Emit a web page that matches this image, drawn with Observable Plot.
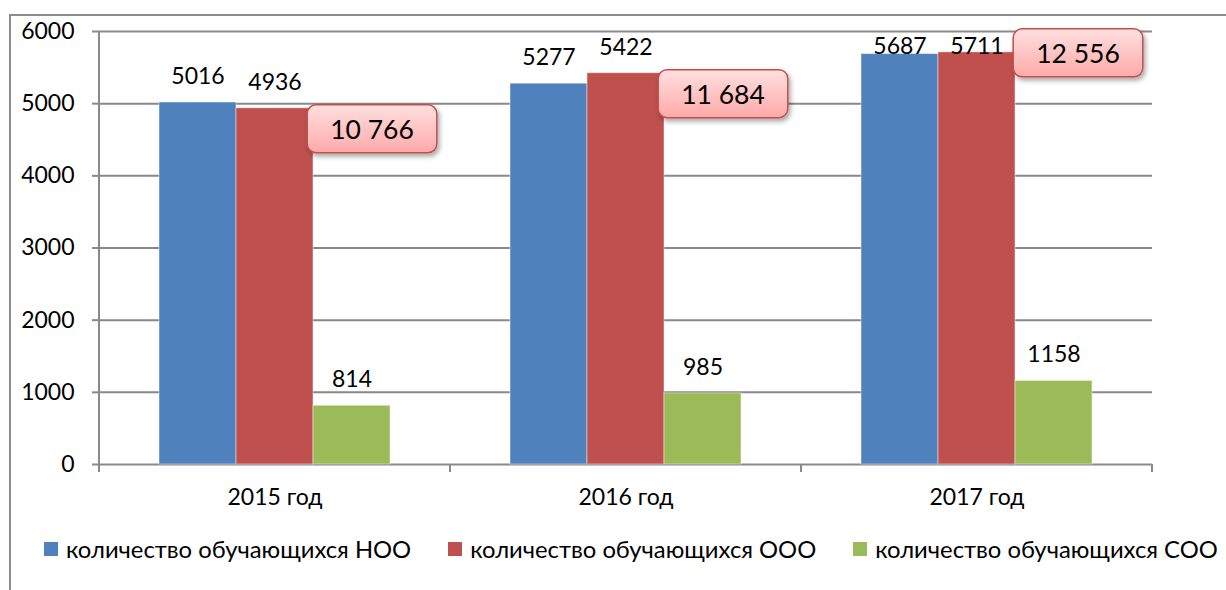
<!DOCTYPE html>
<html><head><meta charset="utf-8">
<script src="https://cdn.jsdelivr.net/npm/d3@7"></script>
<script src="https://cdn.jsdelivr.net/npm/@observablehq/plot@0.6"></script>
<style>
html,body{margin:0;padding:0;background:#fff;width:1226px;height:590px;overflow:hidden;font-family:Lato,"Open Sans",sans-serif;}
#frame{position:absolute;left:9px;top:14px;width:1300px;height:700px;border-left:2px solid #8c8c8c;border-top:2px solid #8c8c8c;}
#chart{position:absolute;left:0;top:0;}
#legend{position:absolute;left:44px;top:535px;display:flex;align-items:center;font-size:23.8px;color:#000;white-space:nowrap;}
#legend .item{display:flex;align-items:center;margin-right:37px;}
#legend .sw{width:14px;height:14px;margin-right:8px;}
</style></head>
<body>
<div id="frame"></div>
<div id="chart"></div>
<div id="legend"></div>
<script>
const years = ["2015 год", "2016 год", "2017 год"];
const series = ["количество обучающихся НОО", "количество обучающихся ООО", "количество обучающихся СОО"];
const noo = [5016, 5277, 5687];
const ooo = [4936, 5422, 5711];
const soo = [814, 985, 1158];
const totals = [10766, 11684, 12556];
const yTicks = [0, 1000, 2000, 3000, 4000, 5000, 6000];
const colors = ["#4f81bd", "#c0504d", "#9bbb59"];

const rows = [];
years.forEach((y, i) => {
  rows.push({year: y, series: series[0], value: noo[i]});
  rows.push({year: y, series: series[1], value: ooo[i]});
  rows.push({year: y, series: series[2], value: soo[i]});
});
const totRows = years.map((y, i) => ({year: y, ooo: ooo[i], total: totals[i], last: i === years.length - 1}));
const fmtTotal = n => String(n).replace(/\B(?=(\d{3})+$)/g, " ");

const chart = Plot.plot({
  width: 1226, height: 520,
  marginLeft: 98, marginRight: 73, marginTop: 31, marginBottom: 56,
  style: {fontFamily: "Lato, 'Open Sans', sans-serif", fontSize: "23px", color: "#000", background: "transparent", overflow: "visible"},
  fx: {domain: years, padding: 0, label: null},
  x: {domain: series, paddingInner: 0, paddingOuter: 0.755, axis: null},
  y: {domain: [0, 6000], label: null},
  color: {domain: series, range: colors},
  marks: [
    Plot.gridY({ticks: yTicks, stroke: "#898989", strokeOpacity: 1, strokeWidth: 2}),
    Plot.axisY({ticks: yTicks, tickFormat: d => String(d), tickSize: 7, tickPadding: 18, stroke: "#898989", strokeWidth: 2, fill: "#000", fontSize: 23, label: null}),
    Plot.axisFx({anchor: "bottom", tickSize: 0, tickPadding: 24, fontSize: 23, fill: "#000", label: null}),
    Plot.barY(rows, {fx: "year", x: "series", y: "value", fill: "series", stroke: "#ffffff", strokeOpacity: 0.45, strokeWidth: 1}),
    Plot.text(rows, {fx: "year", x: "series", y: d => Math.min(d.value, 5430), dy: -26, text: d => String(d.value), fontSize: 23, fill: "#000"}),
    Plot.text(totRows.filter(d => !d.last), {fx: "year", x: () => series[2], y: "ooo", dx: 20, dy: 22, text: d => fmtTotal(d.total), fontSize: 26.5, fill: "#000"}),
    Plot.text(totRows.filter(d => d.last), {fx: "year", x: () => series[2], y: "ooo", dx: 24, dy: 2, text: d => fmtTotal(d.total), fontSize: 26.5, fill: "#000"})
  ]
});
document.getElementById("chart").appendChild(chart);

const svg = d3.select(chart);
const fx = chart.scale("fx");
const ys = chart.scale("y");
const y0 = ys.apply(0);
const axisG = svg.append("g").attr("stroke", "#898989").attr("stroke-width", 2);
const x0 = fx.apply(years[0]);
axisG.append("line").attr("x1", x0).attr("x2", x0).attr("y1", ys.apply(6000)).attr("y2", y0 + 8);
const bounds = years.map(y => fx.apply(y)).concat([fx.apply(years[years.length - 1]) + fx.bandwidth]);
bounds.forEach(b => axisG.append("line").attr("x1", b).attr("x2", b).attr("y1", y0).attr("y2", y0 + 8));

// callout boxes
const defs = svg.insert("defs", ":first-child");
const grad = defs.append("linearGradient").attr("id", "cg").attr("x1", 0).attr("x2", 0).attr("y1", 0).attr("y2", 1);
grad.append("stop").attr("offset", "0%").attr("stop-color", "#ffe0e0");
grad.append("stop").attr("offset", "100%").attr("stop-color", "#ffa9a9");
const filt = defs.append("filter").attr("id", "sh").attr("x", "-20%").attr("y", "-20%").attr("width", "150%").attr("height", "160%");
filt.append("feDropShadow").attr("dx", 2).attr("dy", 3).attr("stdDeviation", 2.5).attr("flood-color", "#000").attr("flood-opacity", 0.35);
svg.selectAll('g[font-size="26.5"] text').each(function() {
  const bb = this.getBBox();
  const padX = 23, h = 48;
  d3.select(this.parentNode).insert("rect", () => this)
    .attr("transform", this.getAttribute("transform"))
    .attr("x", bb.x - padX).attr("y", bb.y + bb.height / 2 - h / 2)
    .attr("width", bb.width + 2 * padX).attr("height", h)
    .attr("rx", 9).attr("fill", "url(#cg)").attr("stroke", "#c0504d").attr("stroke-width", 1.5)
    .attr("filter", "url(#sh)");
});

// legend
const lg = d3.select("#legend");
series.forEach((s, i) => {
  const it = lg.append("div").attr("class", "item");
  it.append("div").attr("class", "sw").style("background", colors[i]);
  it.append("span").text(s);
});
</script>
</body></html>
